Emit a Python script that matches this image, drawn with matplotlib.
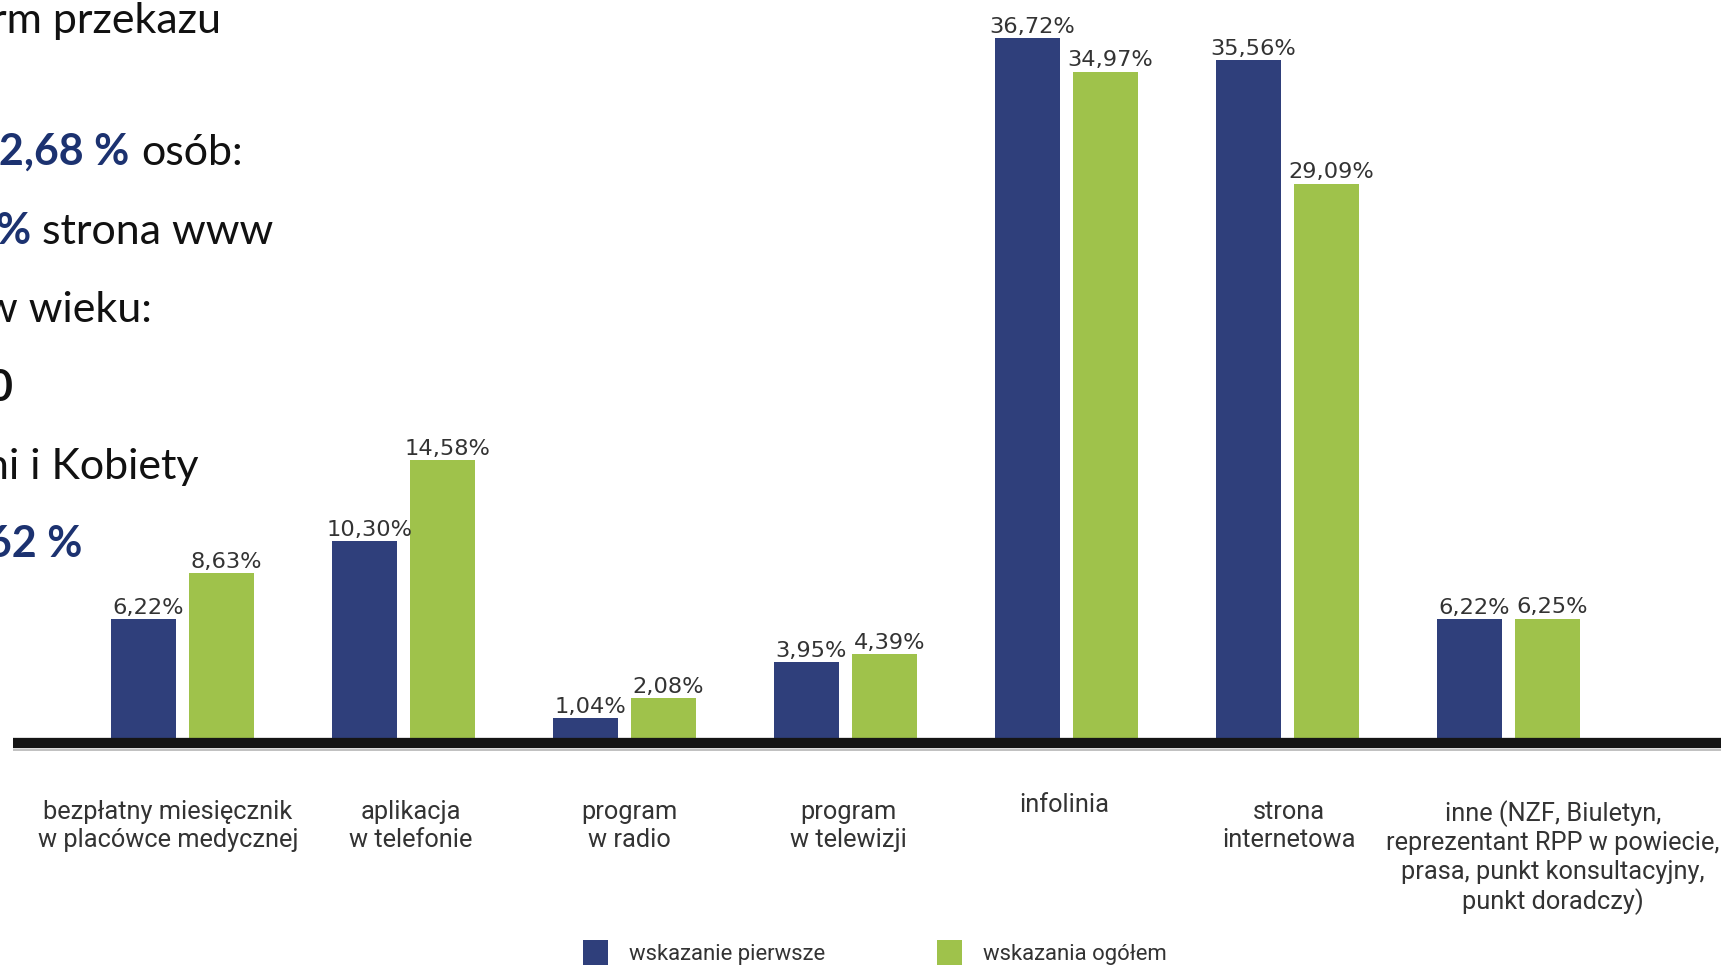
import matplotlib
matplotlib.use("Agg")
import matplotlib.pyplot as plt

# survey results: how respondents hear about the programme
categories = [
    "bezpłatny miesięcznik\nw placówce medycznej",
    "aplikacja\nw telefonie",
    "program\nw radio",
    "program\nw telewizji",
    "infolinia",
    "strona\ninternetowa",
    "inne (NZF, Biuletyn,\nreprezentant RPP w powiecie,\nprasa, punkt konsultacyjny,\npunkt doradczy)",
]
first_choice = [6.22, 10.30, 1.04, 3.95, 36.72, 35.56, 6.22]
all_choices = [8.63, 14.58, 2.08, 4.39, 34.97, 29.09, 6.25]
series_names = ["wskazanie pierwsze", "wskazania ogółem"]

BLUE = "#2f3f7b"
GREEN = "#9fc24b"
NAVY = "#1c3270"
TXT = "#111111"
GREY = "#333333"
NARROW = ["Roboto", "DejaVu Sans"]

W, H = 1724, 967
GROUP_PX = 221.0       # pixels between category centres
FIRST_PX = 182.5       # centre of the first category
PX_PER_PCT = 19.05
BASE_PX = 737.7        # zero line, from the top

fig = plt.figure(figsize=(W / 100, H / 100), dpi=100, facecolor="white")
ax = fig.add_axes([0, 0, 1, 1])
ax.set_xlim(-FIRST_PX / GROUP_PX, (W - FIRST_PX) / GROUP_PX)
ax.set_ylim(-(H - BASE_PX) / PX_PER_PCT, BASE_PX / PX_PER_PCT)
ax.axis("off")


def dx(px):
    return px / GROUP_PX


def ytop(px):
    # pixel row (from top) to data y
    return (BASE_PX - px) / PX_PER_PCT


x = list(range(len(categories)))
bw = dx(65)
off = dx(39)

b1 = ax.bar([i - off for i in x], first_choice, width=bw, color=BLUE, label=series_names[0], zorder=2)
b2 = ax.bar([i + off for i in x], all_choices, width=bw, color=GREEN, label=series_names[1], zorder=2)

for bars, vals in ((b1, first_choice), (b2, all_choices)):
    for rect, v in zip(bars, vals):
        ax.annotate(f"{v:.2f}%".replace(".", ","),
                    xy=(rect.get_x() + rect.get_width() / 2, v),
                    xytext=(3.5, 3.8), textcoords="offset points",
                    ha="center", va="baseline", fontsize=16.2, color=GREY)

# heavy zero line with a faint shadow underneath
ax.hlines(ytop(749.5), dx(13 - FIRST_PX), dx(1721 - FIRST_PX), color="#b5b5b5", lw=1.2, zorder=1)
ax.hlines(ytop(743), dx(13 - FIRST_PX), dx(1721 - FIRST_PX), color="#151515", lw=7.4, zorder=3)

label_dx = [-14.5, 7.5, 4.5, 2.5, -2.5, 1.5, 44.5]
label_top = [800, 800, 800, 800, 793, 800, 800]
for i, (lab, ddx, ty) in enumerate(zip(categories, label_dx, label_top)):
    ax.text(i + dx(ddx), ytop(ty), lab, ha="center", va="top", fontsize=18.3,
            family=NARROW, color=GREY, linespacing=1.23)

ax.legend(ncol=2, loc="upper left", bbox_to_anchor=(583 / W, 1 - 940 / H),
          frameon=False, prop={"family": NARROW, "size": 15.9},
          handlelength=1.13, handleheight=1.35, handletextpad=0.95,
          columnspacing=5.05, borderaxespad=0, borderpad=0, labelcolor=GREY)

# left-hand slide text, cut at the slide edge
LEFT = dict(family=["Lato", "DejaVu Sans"], fontsize=31, va="baseline")
PLAIN = dict(LEFT, fontweight="normal", color=TXT)
BOLD = dict(LEFT, fontweight="bold", color=NAVY)


def ftext(xp, yp, s, **kw):
    fig.text(xp / W, 1 - yp / H, s, **kw)


ftext(221, 33, "rm przekazu", ha="right", **PLAIN)
ftext(129, 165, "42,68 %", ha="right", **BOLD)
ftext(141, 165, "osób:", ha="left", **PLAIN)
ftext(31, 244, "%", ha="right", **BOLD)
ftext(42, 244, "strona www", ha="left", **PLAIN)
ftext(152, 322, "w wieku:", ha="right", **PLAIN)
ftext(13, 401, "0", ha="right", **dict(PLAIN, fontweight="bold"))
ftext(199, 479, "ni i Kobiety", ha="right", **PLAIN)
ftext(82, 557, "62 %", ha="right", **BOLD)

fig.savefig("out.png", dpi=100, facecolor="white")
